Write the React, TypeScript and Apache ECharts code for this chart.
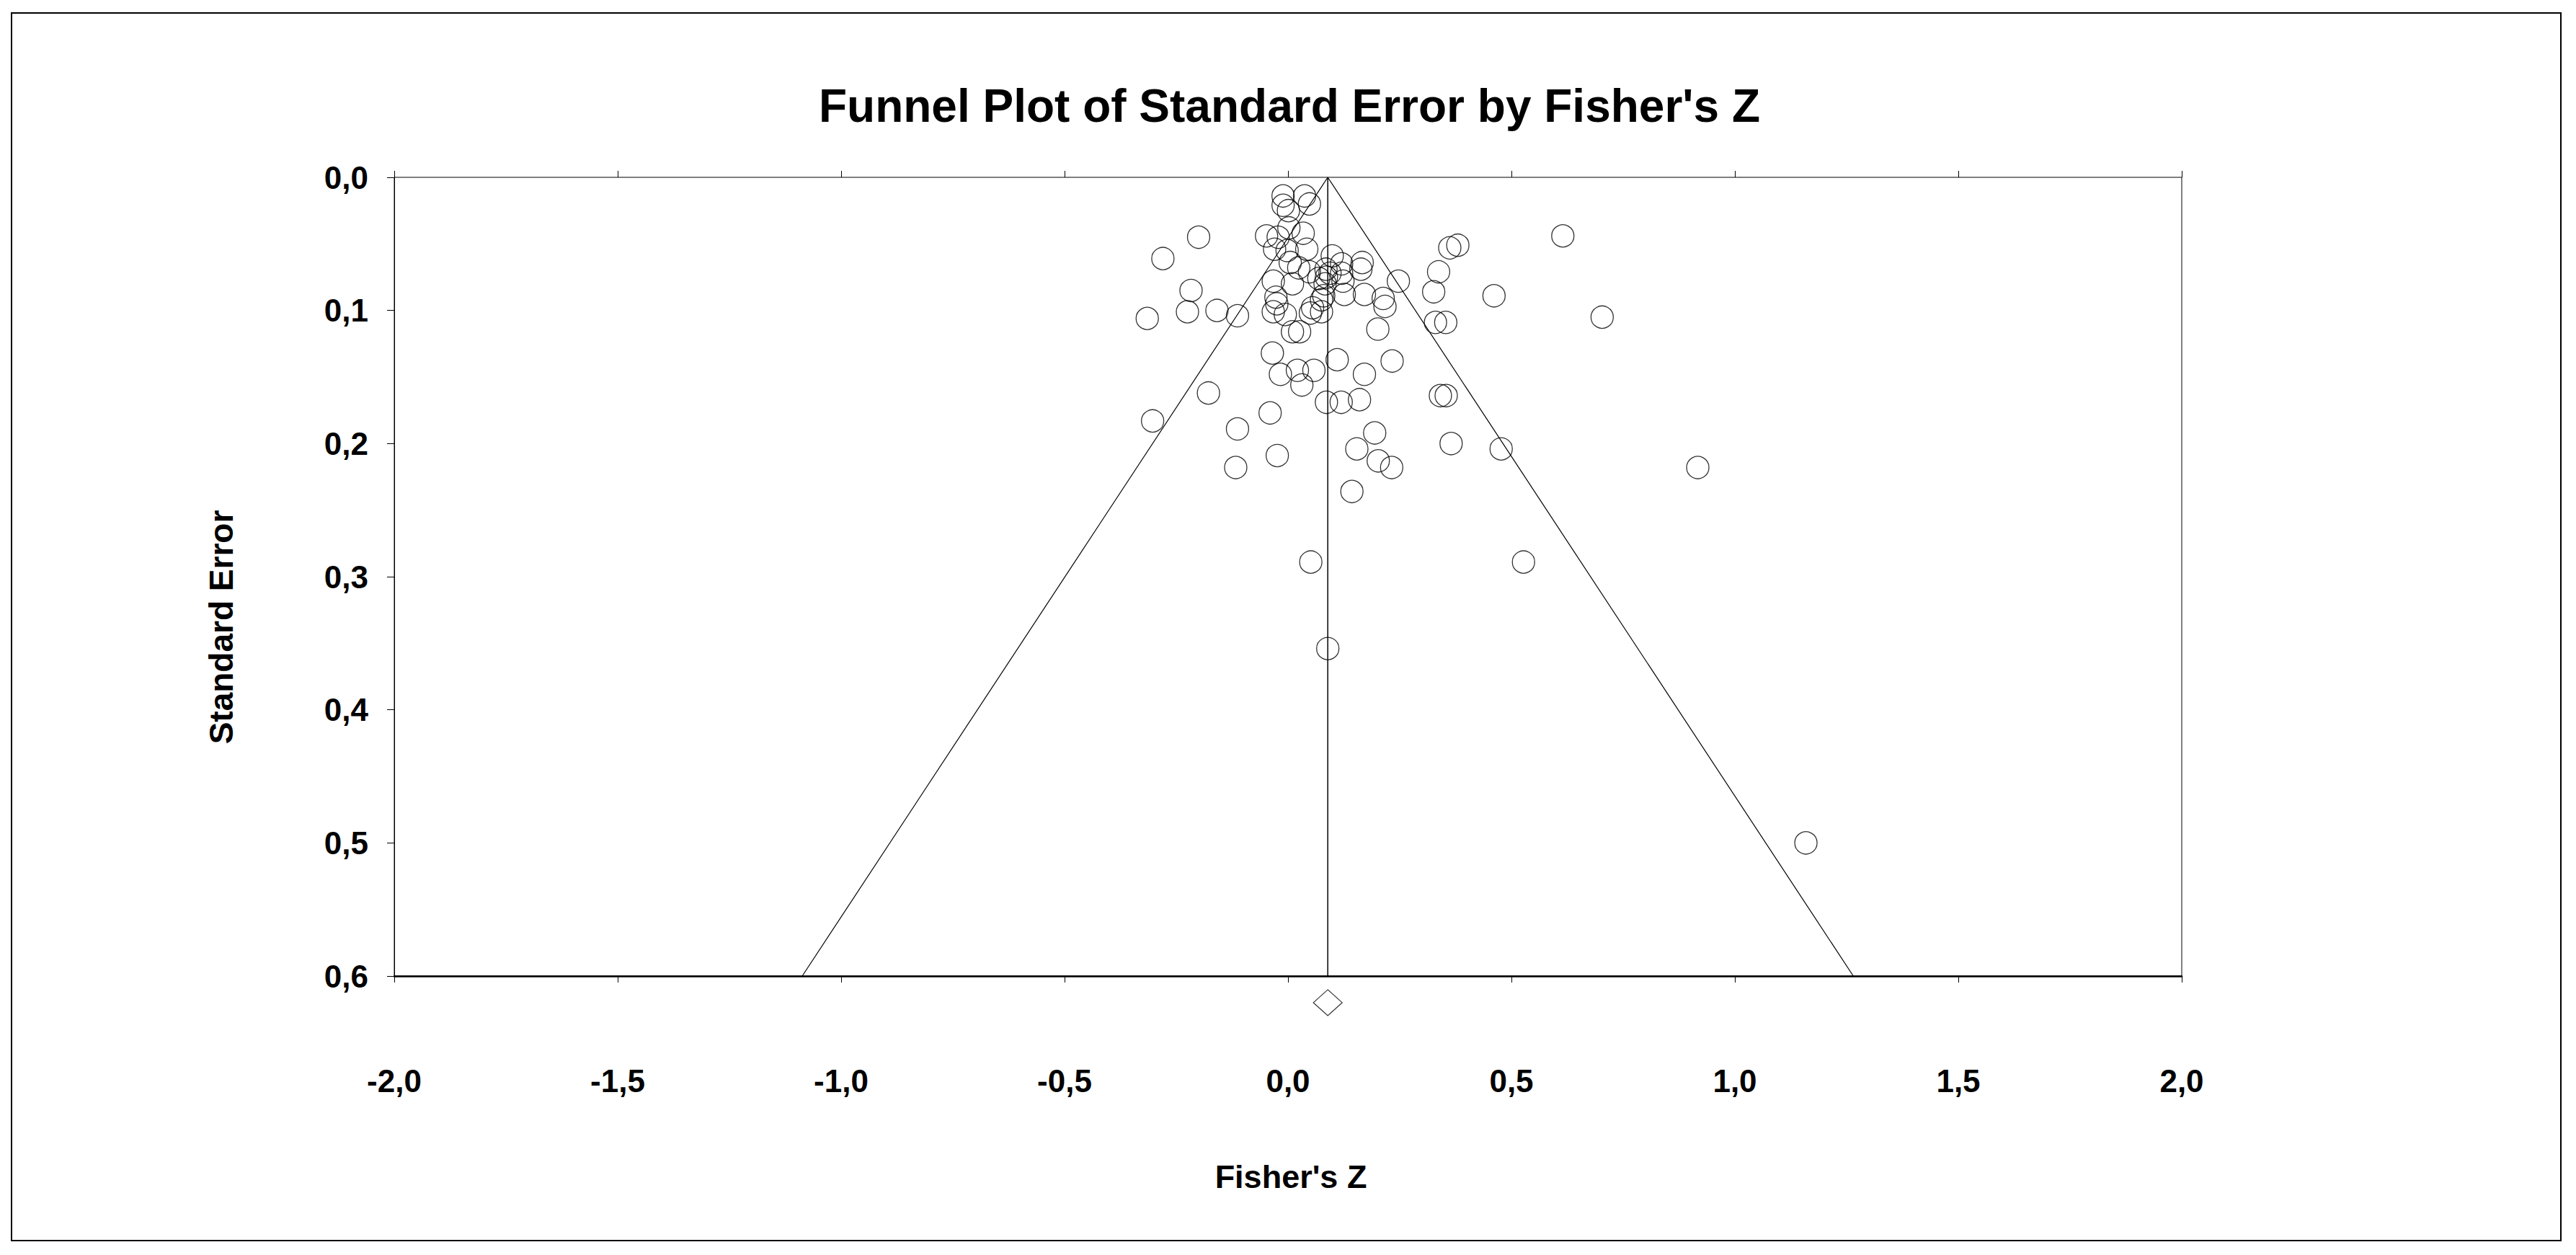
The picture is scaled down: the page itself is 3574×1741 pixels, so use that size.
import React, { useEffect, useRef } from "react";
import * as echarts from "echarts";

// Study effect sizes (Fisher's Z) and their standard errors
const fisherZ = [
  -0.011, 0.037, -0.011, 0.048, 0.001, 0.002, -0.048, -0.022, 0.034, -0.030,
  -0.002, 0.042, 0.005, 0.024, 0.048, 0.085, 0.094, -0.033, 0.010, 0.069,
  0.083, -0.027, -0.025, -0.033, -0.006, 0.010, 0.026, 0.050, 0.055, 0.075,
  -0.017, 0.021, 0.058, 0.031, 0.086, 0.099, 0.120, 0.120, 0.123, 0.086,
  0.166, 0.163, 0.247, 0.126, 0.171, 0.213, 0.217, 0.201, 0.110, 0.171,
  0.233, 0.362, 0.380, 0.337, 0.326, 0.330, 0.353, 0.461, 0.615, 0.703,
  0.917, 0.365, 0.477, 0.527, 1.159, 0.119, 0.160, 0.341, 0.354, 0.194,
  0.154, 0.202, 0.232, 0.143, 0.051, 0.089, -0.178, -0.303, -0.040, -0.113,
  -0.024, -0.117, -0.035, -0.200, -0.280, -0.217, -0.225, -0.315, -0.159, -0.113,
  0.080, 0.075,
];
const standardError = [
  0.014, 0.014, 0.021, 0.020, 0.025, 0.038, 0.044, 0.045, 0.042, 0.054,
  0.055, 0.054, 0.064, 0.068, 0.071, 0.069, 0.072, 0.078, 0.080, 0.076,
  0.080, 0.090, 0.095, 0.101, 0.103, 0.116, 0.116, 0.102, 0.098, 0.092,
  0.148, 0.145, 0.145, 0.156, 0.169, 0.059, 0.065, 0.072, 0.078, 0.075,
  0.064, 0.069, 0.078, 0.088, 0.088, 0.091, 0.097, 0.114, 0.137, 0.148,
  0.138, 0.053, 0.051, 0.071, 0.086, 0.109, 0.109, 0.089, 0.044, 0.105,
  0.218, 0.200, 0.204, 0.289, 0.500, 0.169, 0.167, 0.164, 0.164, 0.192,
  0.204, 0.213, 0.218, 0.236, 0.289, 0.354, 0.162, 0.183, 0.177, 0.189,
  0.209, 0.218, 0.132, 0.045, 0.061, 0.085, 0.101, 0.106, 0.100, 0.104,
  0.089, 0.101,
];

// Pooled estimate and funnel (pseudo 95% limits)
const pooledZ = 0.089;
const diamondSE = 0.62;
const funnelZ = [-1.087, 0.089, 1.265];
const funnelSE = [0.6, 0.0, 0.6];
const meanLineZ = [0.089, 0.089];
const meanLineSE = [0.0, 0.6];

const xTicks = { min: -2, max: 2, interval: 0.5 };
const yTicks = { min: 0, max: 0.6, interval: 0.1 };

const FONT = "'Liberation Sans', Arial, sans-serif";
const fmt = (v: number) => v.toFixed(1).replace(".", ",");

export default function App() {
  const ref = useRef<HTMLDivElement>(null);
  useEffect(() => {
    if (!ref.current) return;
    const chart = echarts.init(ref.current, undefined, { renderer: "svg" });
    const points = fisherZ.map((z, i) => [z, standardError[i]]);
    chart.setOption({
      animation: false,
      backgroundColor: "#ffffff",
      grid: {
        left: 547,
        right: 547,
        top: 246,
        bottom: 387,
        show: true,
        borderColor: "#000",
        borderWidth: 1,
        backgroundColor: "transparent",
      },
      xAxis: [
        {
          type: "value",
          min: xTicks.min,
          max: xTicks.max,
          interval: xTicks.interval,
          position: "bottom",
          splitLine: { show: false },
          axisLine: { show: true, onZero: false, lineStyle: { color: "#000", width: 2.5 } },
          axisTick: { show: true, inside: false, length: 9, lineStyle: { color: "#000", width: 1 } },
          axisLabel: {
            formatter: fmt,
            margin: 123,
            color: "#000",
            fontFamily: FONT,
            fontWeight: "bold",
            fontSize: 44,
          },
        },
        {
          type: "value",
          min: xTicks.min,
          max: xTicks.max,
          interval: xTicks.interval,
          position: "bottom",
          splitLine: { show: false },
          axisLine: { show: false },
          axisTick: { show: true, inside: true, length: 9, lineStyle: { color: "#000", width: 1 } },
          axisLabel: { show: false },
        },
      ],
      yAxis: {
        type: "value",
        inverse: true,
        min: yTicks.min,
        max: yTicks.max,
        interval: yTicks.interval,
        splitLine: { show: false },
        axisLine: { show: true, onZero: false, lineStyle: { color: "#000", width: 1 } },
        axisTick: { show: true, inside: false, length: 10, lineStyle: { color: "#000", width: 1 } },
        axisLabel: {
          formatter: fmt,
          margin: 36,
          color: "#000",
          fontFamily: FONT,
          fontWeight: "bold",
          fontSize: 44,
        },
      },
      series: [
        {
          type: "line",
          silent: true,
          symbol: "none",
          data: funnelZ.map((z, i) => [z, funnelSE[i]]),
          lineStyle: { color: "#000", width: 1.2 },
        },
        {
          type: "line",
          silent: true,
          symbol: "none",
          data: meanLineZ.map((z, i) => [z, meanLineSE[i]]),
          lineStyle: { color: "#000", width: 1.5 },
        },
        {
          type: "scatter",
          silent: true,
          symbol: "circle",
          symbolSize: 31,
          data: points,
          itemStyle: { color: "rgba(0,0,0,0)", borderColor: "#000", borderWidth: 1.3 },
        },
        {
          type: "scatter",
          silent: true,
          clip: false,
          symbol: "diamond",
          symbolSize: [40, 36],
          data: [[pooledZ, diamondSE]],
          itemStyle: { color: "#fff", borderColor: "#000", borderWidth: 1.2 },
        },
      ],
      graphic: [
        {
          type: "rect",
          silent: true,
          shape: { x: 16, y: 18, width: 3537, height: 1703 },
          style: { fill: "none", stroke: "#000", lineWidth: 2 },
        },
        {
          type: "text",
          silent: true,
          x: 1789,
          y: 147,
          style: {
            text: "Funnel Plot of Standard Error by Fisher's Z",
            fill: "#000",
            font: `bold 64px ${FONT}`,
            textAlign: "center",
            textVerticalAlign: "middle",
          },
        },
        {
          type: "text",
          silent: true,
          x: 307,
          y: 870,
          rotation: Math.PI / 2,
          style: {
            text: "Standard Error",
            fill: "#000",
            font: `bold 46px ${FONT}`,
            textAlign: "center",
            textVerticalAlign: "middle",
          },
        },
        {
          type: "text",
          silent: true,
          x: 1791,
          y: 1632,
          style: {
            text: "Fisher's Z",
            fill: "#000",
            font: `bold 45px ${FONT}`,
            textAlign: "center",
            textVerticalAlign: "middle",
          },
        },
      ],
    });
    return () => chart.dispose();
  }, []);
  return (
    <div
      ref={ref}
      style={{ position: "fixed", left: 0, top: 0, width: 3574, height: 1741, background: "#fff" }}
    />
  );
}
